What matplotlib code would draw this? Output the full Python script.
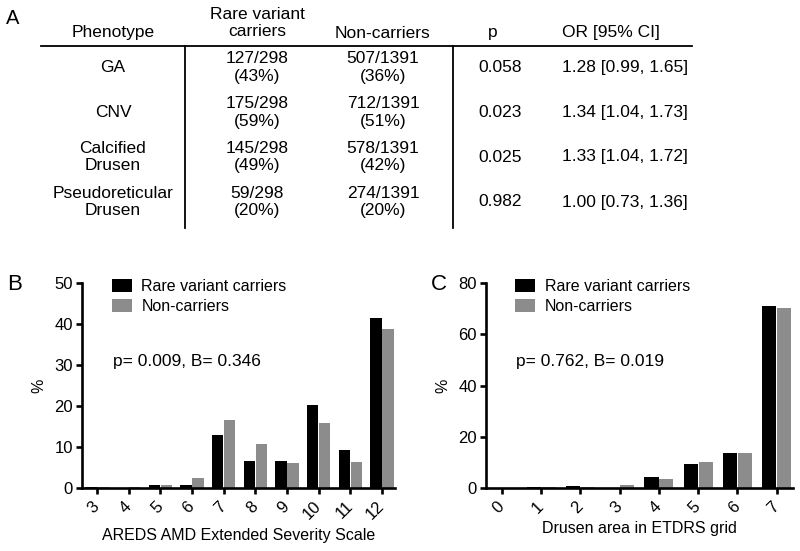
import matplotlib
matplotlib.use('Agg')
import matplotlib.pyplot as plt
import matplotlib.transforms as mtransforms
import numpy as np
from matplotlib.lines import Line2D

plt.rcParams['font.family'] = ['Liberation Sans', 'DejaVu Sans']

# ---- panel A table data
phenotypes = ['GA', 'CNV', 'Calcified\nDrusen', 'Pseudoreticular\nDrusen']
carrier_n = [127, 175, 145, 59]
carrier_total = 298
carrier_pct = [43, 59, 49, 20]
noncarrier_n = [507, 712, 578, 274]
noncarrier_total = 1391
noncarrier_pct = [36, 51, 42, 20]
p_values = ['0.058', '0.023', '0.025', '0.982']
odds_ratios = ['1.28 [0.99, 1.65]', '1.34 [1.04, 1.73]',
               '1.33 [1.04, 1.72]', '1.00 [0.73, 1.36]']

# ---- panel B data (AREDS severity scale)
severity = ['3', '4', '5', '6', '7', '8', '9', '10', '11', '12']
severity_carriers = [0.2, 0.1, 0.8, 0.8, 12.9, 6.5, 6.5, 20.3, 9.2, 41.4]
severity_noncarriers = [0.2, 0.3, 0.7, 2.4, 16.5, 10.8, 6.2, 15.9, 6.4, 38.7]

# ---- panel C data (drusen area)
drusen_area = ['0', '1', '2', '3', '4', '5', '6', '7']
drusen_carriers = [0.0, 0.3, 0.8, 0.0, 4.3, 9.3, 13.6, 70.9]
drusen_noncarriers = [0.0, 0.2, 0.3, 1.2, 3.5, 10.2, 13.5, 70.3]

W, H = 800, 551
fig = plt.figure(figsize=(8, 5.51), dpi=100)


def px(x, y):
    return x / W, 1 - y / H


def ftext(x, y, s, **kw):
    fx, fy = px(x, y)
    kw.setdefault('fontsize', 12.5)
    kw.setdefault('ha', 'center')
    kw.setdefault('va', 'center')
    fig.text(fx, fy, s, **kw)


# ---------------- panel A
ftext(13, 19, 'A', fontsize=14.5)
col_pheno, col_car, col_non, col_p, col_or = 113, 257, 383, 500, 562
ftext(col_pheno, 33, 'Phenotype')
ftext(col_car, 23, 'Rare variant\ncarriers')
ftext(col_non, 33, 'Non-carriers')
ftext(493, 33, 'p')
ftext(col_or, 33, 'OR [95% CI]', ha='left')

row_y = [67.5, 112.5, 157, 202]
for i, y in enumerate(row_y):
    ftext(col_pheno, y, phenotypes[i])
    ftext(col_car, y, '%d/%d\n(%d%%)' % (carrier_n[i], carrier_total, carrier_pct[i]))
    ftext(col_non, y, '%d/%d\n(%d%%)' % (noncarrier_n[i], noncarrier_total, noncarrier_pct[i]))
    ftext(col_p, y, p_values[i])
    ftext(col_or, y, odds_ratios[i], ha='left')

for (x0, y0), (x1, y1) in [((41, 46), (692, 46)), ((185, 46), (185, 228)),
                           ((453, 46), (453, 228))]:
    a, b = px(x0, y0)
    c, d = px(x1, y1)
    fig.add_artist(Line2D([a, c], [b, d], color='black', lw=1.3,
                          transform=fig.transFigure))

black = '#000000'
gray = '#8c8c8c'
shift = mtransforms.ScaledTranslation(3 / 100, 0, fig.dpi_scale_trans)


def bar_panel(rect, cats, car, non, ymax, ystep, xlim, xlabel, stat, letter, letter_x):
    ax = fig.add_axes(rect)
    x = np.arange(len(cats))
    ax.bar(x - 0.19, car, width=0.36, color=black, label='Rare variant carriers')
    ax.bar(x + 0.19, non, width=0.36, color=gray, label='Non-carriers')
    ax.set_xlim(*xlim)
    ax.set_ylim(0, ymax)
    ax.set_yticks(np.arange(0, ymax + 1, ystep))
    ax.set_xticks(x)
    ax.set_xticklabels(cats, rotation=45, ha='right', va='center',
                       rotation_mode='anchor')
    for lbl in ax.get_xticklabels():
        lbl.set_transform(lbl.get_transform() + shift)
    for s in ['top', 'right']:
        ax.spines[s].set_visible(False)
    for s in ['left', 'bottom']:
        ax.spines[s].set_linewidth(1.9)
    ax.tick_params(width=1.9, length=4.5, labelsize=12, pad=2)
    ax.tick_params(axis='x', pad=7)
    ax.set_xlabel(xlabel, fontsize=11.5, labelpad=4)
    ax.set_ylabel('%', fontsize=11.5, labelpad=6)
    ax.legend(loc='upper left', bbox_to_anchor=(0.095, 1.02), frameon=False,
              fontsize=11.5, handlelength=1.25, handleheight=0.92,
              handletextpad=0.6, labelspacing=0.3, borderpad=0, borderaxespad=0)
    ax.text(0.099, 0.615, stat, transform=ax.transAxes, fontsize=12.5,
            ha='left', va='center')
    ftext(letter_x, 284, letter, fontsize=16)
    return ax


bar_panel([82 / W, 1 - 488 / H, 313 / W, 205 / H], severity,
          severity_carriers, severity_noncarriers, 50, 10, (-0.47, 9.41),
          'AREDS AMD Extended Severity Scale', 'p= 0.009, B= 0.346', 'B', 15)
bar_panel([486 / W, 1 - 488 / H, 307 / W, 205 / H], drusen_area,
          drusen_carriers, drusen_noncarriers, 80, 20, (-0.41, 7.42),
          'Drusen area in ETDRS grid', 'p= 0.762, B= 0.019', 'C', 439)

fig.savefig('out.png', dpi=100)
